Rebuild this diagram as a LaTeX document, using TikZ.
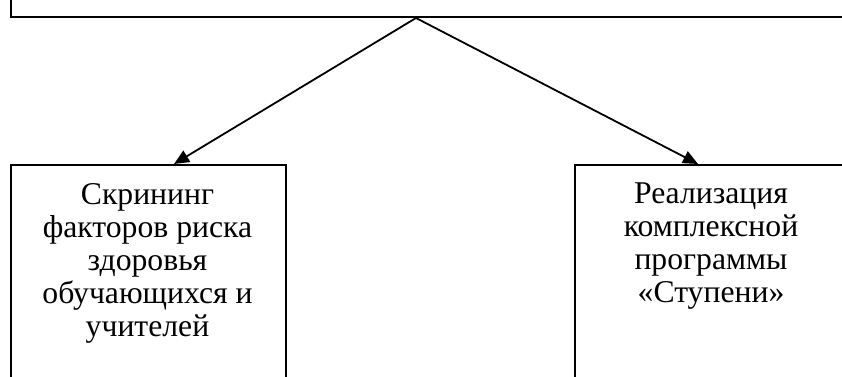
\documentclass[tikz,border=0pt]{standalone}
\usepackage{fontspec}
\setmainfont{Liberation Serif}
\usetikzlibrary{arrows.meta}
\tikzset{
  boxframe/.style={draw, line width=1.8pt, inner sep=0pt},
  boxtext/.style={inner sep=0pt, align=center, anchor=north, font=\fontsize{31.7}{33}\selectfont},
  conn/.style={line width=1.8pt, -{Triangle[length=15pt,width=13pt]}}
}
\begin{document}
\begin{tikzpicture}[x=1pt,y=1pt]
\useasboundingbox (0,0) rectangle (842,376);
\clip (0,0) rectangle (842,376);
\node[boxframe, anchor=south west, minimum width=838pt, minimum height=80pt] (top) at (10,358) {};
\node[boxframe, anchor=north west, minimum width=275pt, minimum height=240pt] (lbox) at (10,212) {};
\node[boxframe, anchor=north west, minimum width=274pt, minimum height=240pt] (rbox) at (574,212) {};
\node[boxtext] (ltext) at (147.5,193) {Скрининг\\факторов риска\\здоровья\\обучающихся и\\учителей};
\node[boxtext] (rtext) at (711,193) {Реализация\\комплексной\\программы\\«Ступени»};
\coordinate (apex) at (416,358);
\coordinate (ltip) at (174,212);
\coordinate (rtip) at (698,212);
\draw[conn] (apex) -- (ltip);
\draw[conn] (apex) -- (rtip);
\end{tikzpicture}
\end{document}
